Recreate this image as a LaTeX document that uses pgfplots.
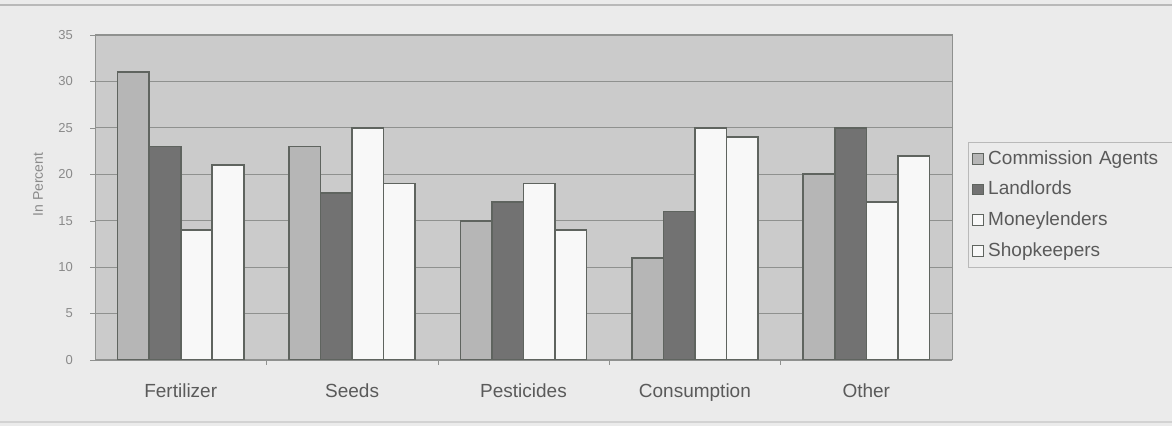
\documentclass[border=0pt]{standalone}
\usepackage{pgfplots}
\pgfplotsset{compat=1.18}
\usepackage{fontspec}
\setmainfont{Liberation Sans}

\definecolor{pagebg}{HTML}{EBEBEB}
\definecolor{plotbg}{HTML}{CBCBCB}
\definecolor{gridc}{HTML}{8F918F}
\definecolor{agents}{HTML}{B6B6B6}
\definecolor{landl}{HTML}{727272}
\definecolor{lenders}{HTML}{F8F8F8}
\definecolor{shops}{HTML}{F8F8F8}
\definecolor{edgec}{HTML}{5F645F}
\definecolor{labc}{HTML}{5A5A5A}
\definecolor{tickc}{HTML}{8A8A8A}

\begin{document}
\begin{tikzpicture}
\fill[pagebg] (0pt,0pt) rectangle (586pt,213pt);
\path[use as bounding box] (0pt,0pt) rectangle (586pt,213pt);
\draw[gray!55, line width=0.6pt] (0pt,210.5pt) -- (586pt,210.5pt);
\draw[gray!35, line width=0.6pt] (0pt,2pt) -- (586pt,2pt);
\begin{axis}[
  at={(90.35pt,33pt)}, anchor=origin,
  width=428.5pt, height=162.5pt, scale only axis,
  ymin=0, ymax=35, ytick={0,5,...,35},
  xmin=-0.5, xmax=4.5,
  xtick={0,...,4},
  xticklabels={Fertilizer,Seeds,Pesticides,Consumption,Other},
  minor xtick={0.5,1.5,2.5,3.5},
  major x tick style={draw=none},
  minor x tick style={draw=gridc},
  minor tick length=2.5pt,
  major tick length=2.5pt,
  tick align=outside,
  xtick pos=bottom, ytick pos=left,
  y tick style={draw=gridc},
  ymajorgrids,
  major grid style={draw=gridc, line width=0.6pt},
  axis background/.style={fill=plotbg},
  axis line style={draw=gridc, line width=0.5pt},
  /pgf/number format/assume math mode=true,
  yticklabel style={font=\fontsize{6.5}{7}\selectfont, text=tickc, xshift=-5pt},
  xticklabel style={font=\fontsize{9.5}{11}\selectfont, text=labc, yshift=-6pt},
  ylabel={In Percent},
  every axis y label/.style={at={(axis description cs:-0.0665,0.54)}, rotate=90, anchor=center, font=\fontsize{7}{8}\selectfont, text=tickc},
  ybar, bar width=0.184,
  legend style={at={(1.0187,0.671)}, anchor=north west, draw=gray!55, fill=pagebg,
    font=\fontsize{9.5}{11}\selectfont, text=labc, row sep=3pt, inner sep=2pt,
    nodes={text width=110pt}},
  legend cell align=left,
  legend image code/.code={\draw[#1, draw=edgec, line width=0.5pt] (1pt,-2.7pt) rectangle (6.4pt,2.7pt);},
]
\addplot[fill=agents, draw=edgec, line width=0.8pt, bar shift=-0.276] coordinates {(0,31) (1,23) (2,15) (3,11) (4,20)};
\addplot[fill=landl, draw=edgec, line width=0.8pt, bar shift=-0.092] coordinates {(0,23) (1,18) (2,17) (3,16) (4,25)};
\addplot[fill=lenders, draw=edgec, line width=0.8pt, bar shift=0.092] coordinates {(0,14) (1,25) (2,19) (3,25) (4,17)};
\addplot[fill=shops, draw=edgec, line width=0.8pt, bar shift=0.276] coordinates {(0,21) (1,19) (2,14) (3,24) (4,22)};
\legend{Commission Agents, Landlords, Moneylenders, Shopkeepers}
\end{axis}
\end{tikzpicture}
\end{document}
